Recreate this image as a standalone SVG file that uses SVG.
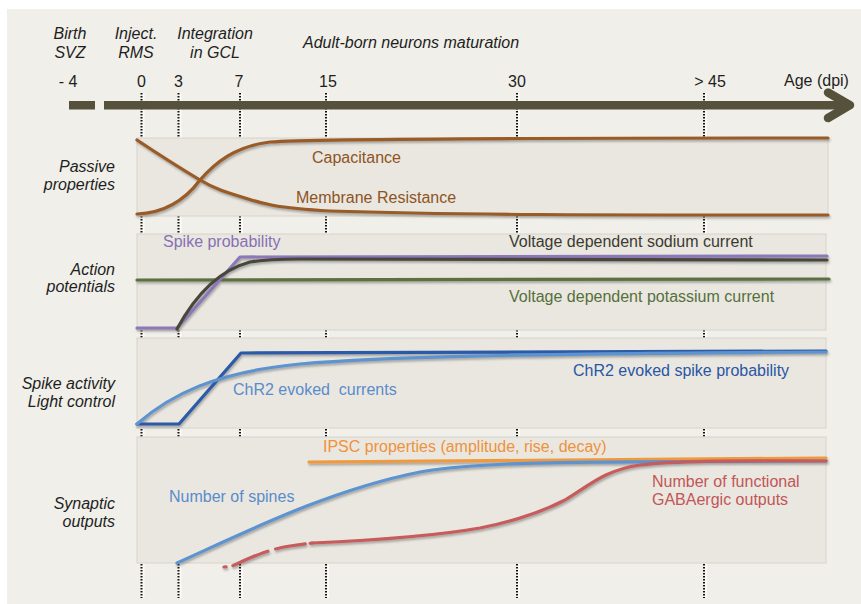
<svg xmlns="http://www.w3.org/2000/svg" width="861" height="604" viewBox="0 0 861 604">
<style>
text{font-family:"Liberation Sans",Arial,sans-serif;font-size:16px;fill:#1e1e1e}
.it{font-style:italic}
.tick{text-anchor:middle}
.panel{fill:#e9e7e0;stroke:#d6d4cc;stroke-width:1}
.dot{stroke:#111;stroke-width:2;stroke-dasharray:1.5 1.5;fill:none}
.dotsh{stroke:#fbfaf6;stroke-width:2;fill:none}
.c{fill:none;stroke-width:3.2;stroke-linecap:round;stroke-linejoin:round}
</style>
<defs>
<filter id="sh" x="-5%" y="-20%" width="110%" height="140%">
<feDropShadow dx="1" dy="2" stdDeviation="1" flood-color="#555" flood-opacity="0.45"/>
</filter>
</defs>
<rect x="0" y="0" width="861" height="604" fill="#ffffff"/>
<rect x="7" y="9" width="854" height="595" fill="#f0efe9"/>

<g id="header">
<text class="it tick" x="70" y="39">Birth</text>
<text class="it tick" x="70" y="58">SVZ</text>
<text class="it tick" x="136" y="39">Inject.</text>
<text class="it tick" x="136" y="58">RMS</text>
<text class="it tick" x="215" y="39">Integration</text>
<text class="it tick" x="215" y="58">in GCL</text>
<text class="it" x="303" y="48">Adult-born neurons maturation</text>
</g>

<g id="ticks">
<g class="dotsh">
<line x1="143.5" y1="93" x2="143.5" y2="598"/><line x1="180.5" y1="93" x2="180.5" y2="598"/><line x1="242" y1="93" x2="242" y2="598"/><line x1="328" y1="93" x2="328" y2="598"/><line x1="519" y1="93" x2="519" y2="598"/><line x1="706" y1="93" x2="706" y2="598"/>
</g>
<g class="dot">
<line x1="141.5" y1="93" x2="141.5" y2="598"/><line x1="178.5" y1="93" x2="178.5" y2="598"/><line x1="240" y1="93" x2="240" y2="598"/><line x1="326" y1="93" x2="326" y2="598"/><line x1="517" y1="93" x2="517" y2="598"/><line x1="704" y1="93" x2="704" y2="598"/>
</g>
<text class="tick" x="68" y="87">- 4</text>
<text class="tick" x="141.5" y="87">0</text>
<text class="tick" x="178.5" y="87">3</text>
<text class="tick" x="239" y="87">7</text>
<text class="tick" x="328" y="87">15</text>
<text class="tick" x="517" y="87">30</text>
<text class="tick" x="710" y="87">&gt; 45</text>
<text x="784" y="86">Age (dpi)</text>
</g>

<g id="axis" fill="#55513b" stroke="#55513b">
<rect x="69" y="101" width="26" height="8.5" stroke="none"/>
<rect x="104" y="101" width="740" height="8.5" stroke="none"/>
<polyline points="828,92.5 850,105.2 828,118" fill="none" stroke-width="8.5" stroke-linecap="round" stroke-linejoin="round"/>
</g>

<g id="row-labels">
<text class="it" x="115" y="172" text-anchor="end">Passive</text>
<text class="it" x="115" y="190" text-anchor="end">properties</text>
<text class="it" x="115" y="275" text-anchor="end">Action</text>
<text class="it" x="115" y="292" text-anchor="end">potentials</text>
<text class="it" x="115" y="389" text-anchor="end">Spike activity</text>
<text class="it" x="115" y="407" text-anchor="end">Light control</text>
<text class="it" x="115" y="509" text-anchor="end">Synaptic</text>
<text class="it" x="115" y="527" text-anchor="end">outputs</text>
</g>

<g id="passive">
<rect class="panel" x="137" y="138" width="691" height="78"/>
<g filter="url(#sh)">
<path class="c" stroke="#9a5b26" d="M137,214 C165,213 185,200 200,180 C215,163 235,146 270,142 Q320,138 828,138"/>
<path class="c" stroke="#9a5b26" d="M137,140 C155,152 180,168 200,180 C215,189 228,193 245,198 C260,203 275,208 330,211 C450,215 600,215 828,215"/>
</g>
<text x="312" y="163" fill="#8e5424" style="fill:#8e5424">Capacitance</text>
<text x="296" y="203" style="fill:#8e5424">Membrane Resistance</text>
</g>

<g id="action">
<rect class="panel" x="137" y="234" width="689" height="96"/>
<g filter="url(#sh)">
<path class="c" stroke="#5b7141" d="M137,280 L829,279"/>
<path class="c" stroke="#8c78b8" d="M137,328 L177,328 L240,257 L827,256"/>
<path class="c" stroke="#47473a" d="M177,329 C190,305 212,272 250,262 C262,260 280,259 300,259 L827,260"/>
</g>
<text x="163" y="247" style="fill:#8870b4">Spike probability</text>
<text x="509" y="247" style="fill:#3b3b30">Voltage dependent sodium current</text>
<text x="509" y="302" style="fill:#56703c">Voltage dependent potassium current</text>
</g>

<g id="spike">
<rect class="panel" x="137" y="338" width="689" height="90"/>
<g filter="url(#sh)">
<path class="c" stroke="#2b5aa8" d="M137,424 L179,424 L241,353 L826,351"/>
<path class="c" stroke="#5d93cf" d="M137,424 C170,395 215,372 300,364 C380,357 500,354 826,352"/>
</g>
<text x="233" y="395" style="fill:#5a8ccb;white-space:pre">ChR2 evoked  currents</text>
<text x="573" y="376" style="fill:#2a56a4">ChR2 evoked spike probability</text>
</g>

<g id="synaptic">
<rect class="panel" x="137" y="437" width="689" height="126"/>
<g filter="url(#sh)">
<path class="c" stroke="#f19a3e" d="M309,462 L826,458"/>
<path class="c" stroke="#5d93cf" d="M177,563 C250,530 330,490 420,472 C490,460 600,462 826,461"/>
<path class="c" stroke="#c65b5b" stroke-linecap="butt" stroke-dasharray="2 7 38 8 30 5" d="M224,567 L232,566 C250,558 265,550 290,546 L312,543"/>
<path class="c" stroke="#c65b5b" d="M312,543 C380,540 440,535 480,528 C515,521 540,513 565,500 C590,485 605,470 640,465 C680,460 750,461 826,461"/>
</g>
<text x="323" y="452" style="fill:#f0923a">IPSC properties (amplitude, rise, decay)</text>
<text x="169" y="502" style="fill:#5a8ccb">Number of spines</text>
<text x="652" y="487" style="fill:#c25656">Number of functional</text>
<text x="652" y="505" style="fill:#c25656">GABAergic outputs</text>
</g>
</svg>
